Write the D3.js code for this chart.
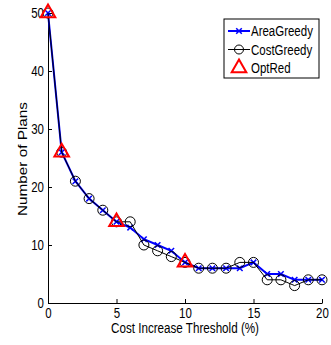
<!DOCTYPE html>
<html>
<head>
<meta charset="utf-8">
<script src="https://cdn.jsdelivr.net/npm/d3@7"></script>
<style>
body { margin: 0; background: #fff; }
text { font-family: "Liberation Sans", Arial, sans-serif; }
</style>
</head>
<body>
<div id="chart"></div>
<script>
const thresholds = d3.range(0, 21)
const areaGreedy = [50, 26, 21, 18, 16, 14, 13, 11, 10, 9, 7, 6, 6, 6, 6, 7, 5, 5, 4, 4, 4]
const costGreedy = [50, 26, 21, 18, 16, 14, 14, 10, 9, 8, 7, 6, 6, 6, 7, 7, 4, 4, 3, 4, 4]
const optRedX = [0, 1, 5, 10]
const optRedY = [50, 26, 14, 7]
const xTicks = [0, 5, 10, 15, 20]
const yTicks = [0, 10, 20, 30, 40, 50]

const width = 331, height = 345
const margin = {left: 48, right: 8, top: 13, bottom: 42}
const squeeze = 0.82   // text in the source looks horizontally squeezed

const svg = d3.select('#chart').append('svg')
    .attr('width', width)
    .attr('height', height)

const x = d3.scaleLinear().domain([0, 20]).range([margin.left, width - margin.right - 1])
const y = d3.scaleLinear().domain([0, 50]).range([height - margin.bottom, margin.top])

// axes, matlab style: ticks inside
svg.append('g')
    .attr('transform', `translate(0,${y(0)})`)
    .call(d3.axisBottom(x).tickValues(xTicks).tickSizeInner(-4).tickSizeOuter(0).tickPadding(5))
    .call(g => g.selectAll('text').attr('font-size', 14).attr('fill', '#000')
        .attr('transform', `scale(${squeeze},1)`))

svg.append('g')
    .attr('transform', `translate(${x(0)},0)`)
    .call(d3.axisLeft(y).tickValues(yTicks).tickSizeInner(-4).tickSizeOuter(0).tickPadding(5))
    .call(g => g.selectAll('text').attr('font-size', 14).attr('fill', '#000')
        .attr('transform', `scale(${squeeze},1)`))

svg.selectAll('.domain, .tick line').attr('stroke', '#000')

svg.append('text')
    .attr('x', (x(0) + x(20)) / 2)
    .attr('y', 333)
    .attr('text-anchor', 'middle')
    .attr('font-size', 14)
    .attr('textLength', 148)
    .attr('lengthAdjust', 'spacingAndGlyphs')
    .text('Cost Increase Threshold (%)')

svg.append('text')
    .attr('transform', `translate(27,159) rotate(-90)`)
    .attr('text-anchor', 'middle')
    .attr('font-size', 13.5)
    .attr('textLength', 114)
    .attr('lengthAdjust', 'spacingAndGlyphs')
    .text('Number of Plans')

const line = d3.line().x(d => x(d[0])).y(d => y(d[1]))

// AreaGreedy
const areaPts = thresholds.map((t, i) => [t, areaGreedy[i]])
svg.append('path')
    .attr('d', line(areaPts))
    .attr('fill', 'none')
    .attr('stroke', '#0000ff')
    .attr('stroke-width', 2)

const cross = d3.symbol().type(d3.symbolX).size(22)
svg.append('g').selectAll('path')
    .data(areaPts)
    .join('path')
    .attr('transform', d => `translate(${x(d[0])},${y(d[1])})`)
    .attr('d', cross)
    .attr('fill', 'none')
    .attr('stroke', '#0000ff')
    .attr('stroke-width', 1.5)

// CostGreedy
const costPts = thresholds.map((t, i) => [t, costGreedy[i]])
svg.append('path')
    .attr('d', line(costPts))
    .attr('fill', 'none')
    .attr('stroke', '#000')
    .attr('stroke-width', 1)

svg.append('g').selectAll('circle')
    .data(costPts)
    .join('circle')
    .attr('cx', d => x(d[0]))
    .attr('cy', d => y(d[1]))
    .attr('r', 5)
    .attr('fill', 'none')
    .attr('stroke', '#000')
    .attr('stroke-width', 1)

// OptRed
const tri = d3.symbol().type(d3.symbolTriangle).size(92)
svg.append('g').selectAll('path')
    .data(optRedX.map((t, i) => [t, optRedY[i]]))
    .join('path')
    .attr('transform', d => `translate(${x(d[0])},${y(d[1])})`)
    .attr('d', tri)
    .attr('fill', 'none')
    .attr('stroke', '#ff0000')
    .attr('stroke-width', 2)

// legend
const lg = svg.append('g').attr('transform', 'translate(224,19)')
lg.append('rect')
    .attr('width', 95).attr('height', 59)
    .attr('fill', '#fff').attr('stroke', '#000').attr('stroke-width', 1)

const items = ['AreaGreedy', 'CostGreedy', 'OptRed']
items.forEach((name, i) => {
    const cy = 12 + i * 18.5
    const row = lg.append('g').attr('transform', `translate(0,${cy})`)
    if (i === 0) {
        row.append('line').attr('x1', 4).attr('x2', 26).attr('stroke', '#0000ff').attr('stroke-width', 2)
        row.append('path').attr('transform', 'translate(15,0)').attr('d', cross)
            .attr('fill', 'none').attr('stroke', '#0000ff').attr('stroke-width', 1.5)
    } else if (i === 1) {
        row.append('line').attr('x1', 4).attr('x2', 26).attr('stroke', '#000').attr('stroke-width', 1)
        row.append('circle').attr('cx', 15).attr('r', 4.5)
            .attr('fill', 'none').attr('stroke', '#000')
    } else {
        row.append('path').attr('transform', 'translate(15,0)').attr('d', tri)
            .attr('fill', 'none').attr('stroke', '#ff0000').attr('stroke-width', 2)
    }
    row.append('text')
        .attr('transform', `translate(27,5) scale(${squeeze},1)`)
        .attr('font-size', 14)
        .text(name)
})
</script>
</body>
</html>
